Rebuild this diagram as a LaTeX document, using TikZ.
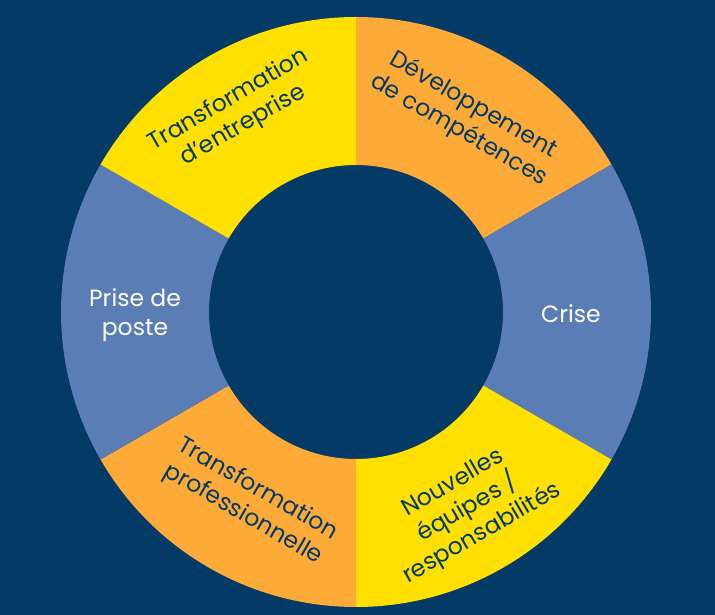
\documentclass[tikz,border=0pt]{standalone}
\usepackage{fontspec}
\setmainfont{Poppins}
\usetikzlibrary{calc}
\definecolor{navy}{HTML}{033A66}
\definecolor{yel}{HTML}{FFE000}
\definecolor{ora}{HTML}{FDAA38}
\definecolor{blu}{HTML}{5A7DB5}
\tikzset{lab/.style={align=center,font=\fontsize{23.5}{29}\selectfont,inner sep=0pt},
 dk/.style={lab,text=navy}, wt/.style={lab,text=white}}
\newcommand{\seg}[3]{\fill[#3] ($(c)+(#1:295)$) arc[start angle=#1,end angle=#2,radius=295] -- ($(c)+(#2:147)$) arc[start angle=#2,end angle=#1,radius=147] -- cycle;}
\begin{document}
\begin{tikzpicture}[x=1pt,y=1pt]
\fill[navy] (0,0) rectangle (715,615);
\useasboundingbox (0,0) rectangle (715,615);
\coordinate (c) at (356,303);
\seg{30}{90}{ora}
\seg{-30}{30}{blu}
\seg{-90}{-30}{yel}
\seg{-150}{-90}{ora}
\seg{150}{210}{blu}
\seg{90}{150}{yel}
\node[dk,rotate=-30] (dev) at (466,497) {Développement\\de compétences};
\node[dk,rotate=30] (te) at (236,502) {Transformation\\d’entreprise};
\node[wt] (cr) at (571,301) {Crise};
\node[wt] (pp) at (135,300) {Prise de\\poste};
\node[dk,rotate=-30] (tp) at (250,113) {Transformation\\professionnelle};
\node[dk,rotate=30] (ne) at (468,106) {Nouvelles\\équipes /\\responsabilités};
\end{tikzpicture}
\end{document}
